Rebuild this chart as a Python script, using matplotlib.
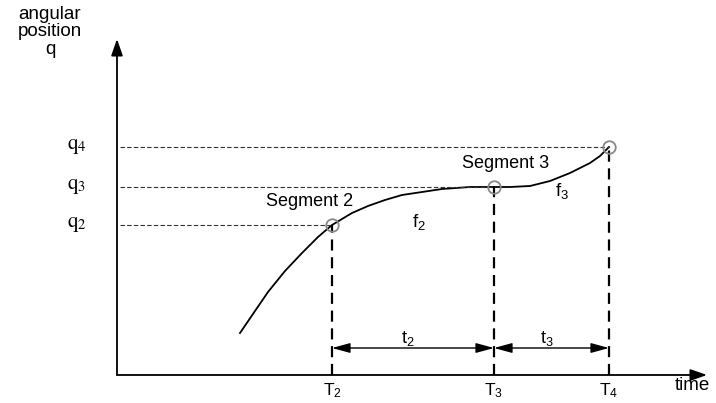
import matplotlib
matplotlib.use("Agg")
import matplotlib.pyplot as plt

plt.rcParams['font.family'] = ['Liberation Sans', 'DejaVu Sans']
plt.rcParams['mathtext.fontset'] = 'custom'
plt.rcParams['mathtext.rm'] = 'Liberation Sans'
plt.rcParams['mathtext.it'] = 'Liberation Sans'

# knot times and positions (time measured from the origin, position up)
knot_t = [215, 377, 492]
knot_q = [150, 188, 228]
knot_t_labels = ['T$_2$', 'T$_3$', 'T$_4$']
knot_q_labels = [r'$\mathrm{q}_2$', r'$\mathrm{q}_3$', r'$\mathrm{q}_4$']

# curve
seg2_t = [123, 138, 151, 168, 185, 201, 215, 235, 251, 268, 285, 305, 325, 353, 377]
seg2_q = [42, 64, 83, 104, 122, 138, 150, 162, 169, 175, 180, 183, 186, 188, 188]
seg3_t = [377, 393, 413, 433, 453, 473, 483, 492]
seg3_q = [188, 188, 189, 194, 202, 212, 219, 228]

interval_labels = ['t$_2$', 't$_3$']
t_max = 590
q_max = 336

fig = plt.figure(figsize=(7.16, 4.03), dpi=100)
ax = fig.add_axes([0, 0, 1, 1])
ax.set_xlim(-117, 599)
ax.set_ylim(-28, 375)
ax.axis('off')

# axes with arrow heads
ax.annotate('', xy=(t_max, 0), xytext=(0, 0),
            arrowprops=dict(arrowstyle='-|>,head_length=1.0,head_width=0.35',
                            color='black', lw=1.3, shrinkA=0, shrinkB=0))
ax.annotate('', xy=(0, q_max), xytext=(0, 0),
            arrowprops=dict(arrowstyle='-|>,head_length=1.0,head_width=0.35',
                            color='black', lw=1.3, shrinkA=0, shrinkB=0))

ax.plot(seg2_t, seg2_q, color='black', lw=1.3, solid_joinstyle='round')
ax.plot(seg3_t, seg3_q, color='black', lw=1.3, solid_joinstyle='round')

for t, q in zip(knot_t, knot_q):
    ax.plot([3, t], [q, q], color='#333333', lw=0.8, dashes=(4, 2))
    ax.plot([t, t], [0, q], color='black', lw=1.6, dashes=(5, 3))
    ax.plot(t, q, 'o', ms=9, mfc='none', mec='#888888', mew=1.3)

for lab, q in zip(knot_q_labels, knot_q):
    ax.text(-50, q, lab, fontsize=15, ha='left', va='center', math_fontfamily='stix')
for lab, t in zip(knot_t_labels, knot_t):
    ax.text(t, -16, lab, fontsize=12.5, ha='center', va='center')

# interval arrows
arrow_q = 27
for i, lab in enumerate(interval_labels):
    t0, t1 = knot_t[i], knot_t[i + 1]
    ax.annotate('', xy=(t1, arrow_q), xytext=(t0, arrow_q),
                arrowprops=dict(arrowstyle='<|-|>,head_length=1.1,head_width=0.3',
                                color='black', lw=1.0, shrinkA=0, shrinkB=0))
    ax.text((t0 + t1) / 2 - 5, arrow_q + 9, lab, fontsize=13, ha='center', va='center')

ax.text(193, 173, 'Segment 2', fontsize=13, ha='center', va='center')
ax.text(302, 153, 'f$_2$', fontsize=13.5, ha='center', va='center')
ax.text(389, 212, 'Segment 3', fontsize=13, ha='center', va='center')
ax.text(445, 184, 'f$_3$', fontsize=13.5, ha='center', va='center')
ax.text(-67, 343, 'angular\nposition\nq', fontsize=13.5, ha='center', va='center',
        linespacing=1.05)
ax.text(575, -10, 'time', fontsize=13.5, ha='center', va='center')

fig.savefig('out.png', dpi=100)
